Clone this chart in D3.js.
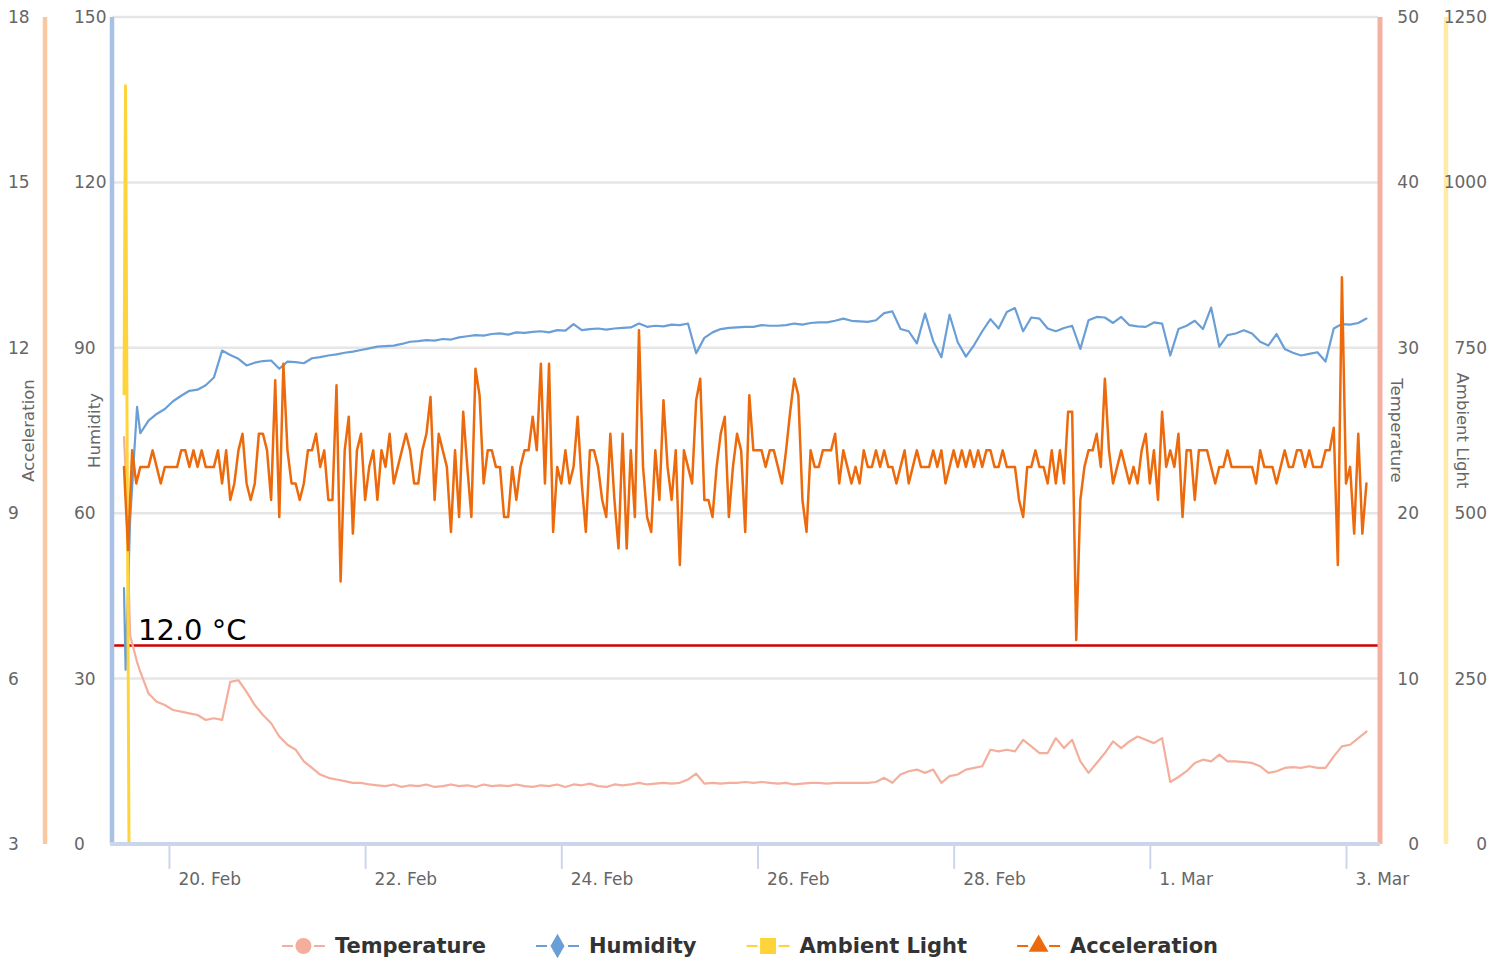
<!DOCTYPE html>
<html>
<head>
<meta charset="utf-8">
<script src="https://cdn.jsdelivr.net/npm/d3@7"></script>
<style>
  body { margin: 0; background: #fff; }
  text { font-family: 'DejaVu Sans', sans-serif; }
</style>
</head>
<body>
<div id="chart"></div>
<script>
// readings start 19 Feb 13:00 (UTC), offsets below are in hours
const startTime = Date.UTC(2024, 1, 19, 13, 0)
const accelHours = d3.range(0, 305)
const sensorHours = [0, 0.4, 1.5, 3.2].concat(d3.range(4, 305, 2))
const lightHours = [0, 0.37, 1.22, 304]

const temperature = [24.6, 22.5, 12.6, 11.0,
  10.4, 9.1, 8.6, 8.4, 8.1, 8.0, 7.9, 7.8, 7.5, 7.6,
  7.5, 9.8, 9.9, 9.2, 8.4, 7.8, 7.3, 6.5, 6.0, 5.7,
  5.0, 4.6, 4.2, 4.0, 3.9, 3.8, 3.7, 3.7, 3.6, 3.55,
  3.5, 3.6, 3.45, 3.55, 3.5, 3.6, 3.45, 3.5, 3.6, 3.5,
  3.55, 3.45, 3.6, 3.5, 3.55, 3.5, 3.6, 3.5, 3.45, 3.55,
  3.5, 3.6, 3.45, 3.6, 3.55, 3.65, 3.5, 3.45, 3.6, 3.55,
  3.6, 3.7, 3.6, 3.65, 3.7, 3.65, 3.7, 3.9, 4.25, 3.65,
  3.7, 3.65, 3.7, 3.7, 3.75, 3.7, 3.75, 3.7, 3.65, 3.7,
  3.6, 3.65, 3.7, 3.7, 3.65, 3.7, 3.7, 3.7, 3.7, 3.7,
  3.75, 4.0, 3.7, 4.2, 4.4, 4.5, 4.3, 4.5, 3.7, 4.1,
  4.2, 4.5, 4.6, 4.7, 5.7, 5.6, 5.7, 5.6, 6.3, 5.9,
  5.5, 5.5, 6.4, 5.8, 6.3, 5.0, 4.3, 4.9, 5.5, 6.2,
  5.8, 6.2, 6.5, 6.3, 6.1, 6.4, 3.75, 4.05, 4.4, 4.9,
  5.1, 5.0, 5.4, 5.0, 5.0, 4.95, 4.9, 4.7, 4.3, 4.4,
  4.6, 4.65, 4.6, 4.7, 4.6, 4.6, 5.3, 5.9, 6.0, 6.4,
  6.8]

const humidity = [46.4, 31.6, 58.8, 79.3,
  74.5, 76.8, 78.0, 78.9, 80.3, 81.3, 82.2, 82.4, 83.2, 84.6,
  89.5, 88.7, 88.0, 86.8, 87.3, 87.6, 87.7, 86.2, 87.5, 87.4,
  87.2, 88.1, 88.3, 88.6, 88.8, 89.1, 89.3, 89.6, 89.9, 90.2,
  90.3, 90.4, 90.7, 91.1, 91.2, 91.4, 91.3, 91.6, 91.5, 91.9,
  92.1, 92.3, 92.2, 92.5, 92.6, 92.4, 92.8, 92.7, 92.9, 93.0,
  92.8, 93.2, 93.1, 94.3, 93.2, 93.4, 93.5, 93.3, 93.5, 93.6,
  93.7, 94.4, 93.8, 94.0, 93.9, 94.2, 94.1, 94.4, 89.0, 91.8,
  92.8, 93.4, 93.6, 93.7, 93.8, 93.8, 94.1, 94.0, 94.0, 94.1,
  94.4, 94.2, 94.5, 94.6, 94.6, 94.9, 95.3, 94.9, 94.8, 94.7,
  95.0, 96.3, 96.6, 93.4, 93.0, 90.8, 96.2, 91.2, 88.3, 96.0,
  91.0, 88.4, 90.5, 93.0, 95.2, 93.5, 96.5, 97.2, 93.0, 95.5,
  95.3, 93.5, 93.0, 93.6, 94.0, 89.8, 95.0, 95.6, 95.5, 94.5,
  95.6, 94.1, 93.9, 93.8, 94.6, 94.4, 88.6, 93.4, 94.0, 94.9,
  93.4, 97.3, 90.2, 92.3, 92.6, 93.2, 92.6, 91.1, 90.4, 92.5,
  89.8, 89.1, 88.6, 88.9, 89.2, 87.5, 93.5, 94.3, 94.2, 94.5,
  95.3]

const ambientLight = [680, 1146, 0, 0]

const acceleration = [
  9.84, 8.33, 10.14, 9.54, 9.84, 9.84, 9.84, 10.14, 9.84, 9.54,
  9.84, 9.84, 9.84, 9.84, 10.14, 10.14, 9.84, 10.14, 9.84, 10.14,
  9.84, 9.84, 9.84, 10.14, 9.54, 10.14, 9.24, 9.54, 10.14, 10.44,
  9.54, 9.24, 9.54, 10.44, 10.44, 10.14, 9.24, 11.41, 8.93, 11.71,
  10.14, 9.54, 9.54, 9.24, 9.54, 10.14, 10.14, 10.44, 9.84, 10.14,
  9.24, 9.24, 11.32, 7.76, 10.14, 10.75, 8.63, 10.14, 10.44, 9.24,
  9.84, 10.14, 9.24, 10.14, 9.84, 10.44, 9.54, 9.84, 10.14, 10.44,
  10.14, 9.54, 9.54, 10.14, 10.44, 11.11,
  9.24, 10.44, 10.14, 9.84, 8.66, 10.14, 8.93, 10.84, 9.84, 8.93,
  11.62, 11.14, 9.54, 10.14, 10.14, 9.84, 9.84, 8.93, 8.93, 9.84,
  9.24, 9.84, 10.14, 10.14, 10.75, 10.14, 11.71, 9.54, 11.71, 8.66,
  9.84, 9.54, 10.14, 9.54, 9.84, 10.75, 9.54, 8.66, 10.14, 10.14,
  9.84, 9.24, 8.93, 10.44, 9.24, 8.36, 10.44, 8.36, 10.14, 8.93,
  12.32, 9.84, 8.93, 8.66, 10.14, 9.24, 11.05, 9.84, 9.24, 10.14,
  8.06, 10.14, 9.84, 9.54, 11.05, 11.44, 9.24, 9.24, 8.93, 9.84,
  10.44, 10.75, 8.93, 9.84, 10.44, 10.14, 8.66, 11.14,
  10.14, 10.14, 10.14, 9.84, 10.14, 10.14, 9.84, 9.54, 10.14, 10.84,
  11.44, 11.14, 9.24, 8.66, 10.14, 9.84, 9.84, 10.14, 10.14, 10.14,
  10.44, 9.54, 10.14, 9.84, 9.54, 9.84, 9.54, 10.14, 9.84, 9.84,
  10.14, 9.84, 10.14, 9.84, 9.84, 9.54, 9.84, 10.14, 9.54, 9.84,
  10.14, 9.84, 9.84, 9.84, 10.14, 9.84, 10.14, 9.54, 9.84, 10.14,
  9.84, 10.14, 9.84, 10.14, 9.84, 10.14, 9.84, 10.14, 10.14, 9.84,
  9.84, 10.14, 9.84, 9.84, 9.84, 9.24, 8.93, 9.84, 9.84, 10.14,
  9.84, 9.84, 9.54, 10.14, 9.54, 10.14, 9.54, 10.84,
  10.84, 6.70, 9.24, 9.84, 10.14, 10.14, 10.44, 9.84, 11.44, 10.14,
  9.54, 9.84, 10.14, 9.84, 9.54, 9.84, 9.54, 10.14, 10.44, 9.54,
  10.14, 9.24, 10.84, 9.84, 10.14, 9.84, 10.44, 8.93, 10.14, 10.14,
  9.24, 10.14, 10.14, 10.14, 9.84, 9.54, 9.84, 9.84, 10.14, 9.84,
  9.84, 9.84, 9.84, 9.84, 9.84, 9.54, 10.14, 9.84, 9.84, 9.84,
  9.54, 9.84, 10.14, 9.84, 9.84, 10.14, 10.14, 9.84, 10.14, 9.84,
  9.84, 9.84, 10.14, 10.14, 10.55, 8.06, 13.28, 9.54, 9.84, 8.63,
  10.44, 8.63, 9.54]

const xTicks = ['2024-02-20', '2024-02-22', '2024-02-24', '2024-02-26', '2024-02-28', '2024-03-01', '2024-03-03']
const humidityTicks = [0, 30, 60, 90, 120, 150]
const accelTicks = [3, 6, 9, 12, 15, 18]
const tempTicks = [0, 10, 20, 30, 40, 50]
const lightTicks = [0, 250, 500, 750, 1000, 1250]
const alarmTemp = 12.0

const width = 1505
const height = 963
const plot = { left: 112, right: 1380, top: 17, bottom: 844 }

const svg = d3.select('#chart')
  .append('svg')
  .attr('width', width)
  .attr('height', height)

const x = d3.scaleUtc()
  .domain([new Date(Date.UTC(2024, 1, 19, 10, 4)), new Date(Date.UTC(2024, 2, 3, 8, 19))])
  .range([plot.left, plot.right])
const yHum = d3.scaleLinear([0, 150], [plot.bottom, plot.top])
const yAcc = d3.scaleLinear([3, 18], [plot.bottom, plot.top])
const yTemp = d3.scaleLinear([0, 50], [plot.bottom, plot.top])
const yLight = d3.scaleLinear([0, 1250], [plot.bottom, plot.top])

const toDate = h => new Date(startTime + h * 3600 * 1000)

const series = [
  { name: 'Temperature', hours: sensorHours, values: temperature, y: yTemp, color: '#f4ae9c', width: 2.2, symbol: d3.symbolCircle, size: 200 },
  { name: 'Humidity', hours: sensorHours, values: humidity, y: yHum, color: '#6a9ed6', width: 2.2, symbol: d3.symbolDiamond, size: 170 },
  { name: 'Ambient Light', hours: lightHours, values: ambientLight, y: yLight, color: '#ffd43b', width: 3, symbol: d3.symbolSquare, size: 256 },
  { name: 'Acceleration', hours: accelHours, values: acceleration, y: yAcc, color: '#ec6a0b', width: 2.5, symbol: d3.symbolTriangle, size: 170 }
]

// grid lines follow the humidity axis
svg.append('g')
  .selectAll('line')
  .data(humidityTicks)
  .enter()
  .append('line')
  .attr('x1', plot.left)
  .attr('x2', plot.right - 2)
  .attr('y1', d => yHum(d))
  .attr('y2', d => yHum(d))
  .attr('stroke', '#e6e6e6')
  .attr('stroke-width', 2.5)

// 12 degree alarm line
svg.append('line')
  .attr('x1', plot.left + 2)
  .attr('x2', plot.right - 2)
  .attr('y1', yTemp(alarmTemp))
  .attr('y2', yTemp(alarmTemp))
  .attr('stroke', '#d10000')
  .attr('stroke-width', 2.5)

svg.append('clipPath')
  .attr('id', 'plot-clip')
  .append('rect')
  .attr('x', plot.left)
  .attr('y', plot.top)
  .attr('width', plot.right - plot.left)
  .attr('height', plot.bottom - plot.top)

const lines = svg.append('g').attr('clip-path', 'url(#plot-clip)')

series.forEach(s => {
  const points = s.values.map((v, i) => [toDate(s.hours[i]), v])
  const line = d3.line()
    .x(d => x(d[0]))
    .y(d => s.y(d[1]))
  lines.append('path')
    .datum(points)
    .attr('d', line)
    .attr('fill', 'none')
    .attr('stroke', s.color)
    .attr('stroke-width', s.width)
    .attr('stroke-linejoin', 'round')
    .attr('stroke-linecap', 'round')
})

svg.append('text')
  .attr('x', 138)
  .attr('y', yTemp(alarmTemp) - 6)
  .attr('font-size', 29)
  .attr('fill', '#000')
  .text(alarmTemp.toFixed(1) + ' °C')

// coloured axis lines
const axisLines = [
  { x: 45, color: '#f9c8a1', width: 4.5 },
  { x: plot.left, color: '#a6c1e5', width: 4.5 },
  { x: plot.right, color: '#f5b0a1', width: 5 },
  { x: 1446, color: '#ffeaa6', width: 4.5 }
]
svg.append('g')
  .selectAll('line')
  .data(axisLines)
  .enter()
  .append('line')
  .attr('x1', d => d.x)
  .attr('x2', d => d.x)
  .attr('y1', plot.top)
  .attr('y2', plot.bottom)
  .attr('stroke', d => d.color)
  .attr('stroke-width', d => d.width)

// x axis
svg.append('line')
  .attr('x1', plot.left - 2)
  .attr('x2', plot.right)
  .attr('y1', plot.bottom)
  .attr('y2', plot.bottom)
  .attr('stroke', '#ccd6eb')
  .attr('stroke-width', 4)

svg.append('g')
  .attr('transform', `translate(0, ${plot.bottom + 2})`)
  .call(d3.axisBottom(x)
    .tickValues(xTicks.map(d => new Date(d)))
    .tickSize(23)
    .tickFormat(d3.utcFormat('%-d. %b')))
  .call(g => g.select('.domain').remove())
  .call(g => g.selectAll('.tick line').attr('stroke', '#ccd6eb').attr('stroke-width', 2))
  .call(g => g.selectAll('.tick text')
    .attr('text-anchor', 'start')
    .attr('x', 9)
    .attr('y', 33)
    .attr('dy', '0.35em')
    .attr('fill', '#666')
    .attr('font-size', 17)
    .attr('font-family', 'DejaVu Sans'))

// y axes: only labels, lines drawn above
function yAxis (axis, scale, ticks, pos) {
  svg.append('g')
    .attr('transform', `translate(${pos}, 0)`)
    .call(axis(scale).tickValues(ticks).tickSize(0).tickPadding(0).tickFormat(d3.format('d')))
    .call(g => g.select('.domain').remove())
    .call(g => g.selectAll('.tick text')
      .attr('fill', '#666')
      .attr('font-size', 17)
      .attr('font-family', 'DejaVu Sans'))
}
yAxis(d3.axisRight, yAcc, accelTicks, 8)
yAxis(d3.axisRight, yHum, humidityTicks, 74)
yAxis(d3.axisLeft, yTemp, tempTicks, 1419)
yAxis(d3.axisLeft, yLight, lightTicks, 1487)

const midY = (plot.top + plot.bottom) / 2
const titles = [
  { text: 'Acceleration', x: 28, angle: -90 },
  { text: 'Humidity', x: 94, angle: -90 },
  { text: 'Temperature', x: 1397, angle: 90 },
  { text: 'Ambient Light', x: 1463, angle: 90 }
]
svg.append('g')
  .selectAll('text')
  .data(titles)
  .enter()
  .append('text')
  .attr('transform', d => `translate(${d.x}, ${midY}) rotate(${d.angle})`)
  .attr('text-anchor', 'middle')
  .attr('dy', '0.35em')
  .attr('font-size', 16.5)
  .attr('fill', '#666')
  .text(d => d.text)

// legend
const legend = svg.append('g')
const legendY = 946
let cursor = 0
const items = series.map(s => {
  const g = legend.append('g')
  g.append('line')
    .attr('x1', 0).attr('x2', 11)
    .attr('y1', 0).attr('y2', 0)
    .attr('stroke', s.color).attr('stroke-width', 2)
  g.append('line')
    .attr('x1', 32).attr('x2', 43)
    .attr('y1', 0).attr('y2', 0)
    .attr('stroke', s.color).attr('stroke-width', 2)
  g.append('path')
    .attr('transform', 'translate(21.5, 0)')
    .attr('d', d3.symbol(s.symbol, s.size)())
    .attr('fill', s.color)
  const t = g.append('text')
    .attr('x', 53)
    .attr('dy', '0.35em')
    .attr('font-size', 21)
    .attr('font-weight', 'bold')
    .attr('fill', '#333')
    .text(s.name)
  const w = 53 + t.node().getComputedTextLength()
  const item = { g, x: cursor }
  cursor += w + 50
  return item
})
const legendWidth = cursor - 50
const legendLeft = 750 - legendWidth / 2
items.forEach(it => it.g.attr('transform', `translate(${legendLeft + it.x}, ${legendY})`))
</script>
</body>
</html>
